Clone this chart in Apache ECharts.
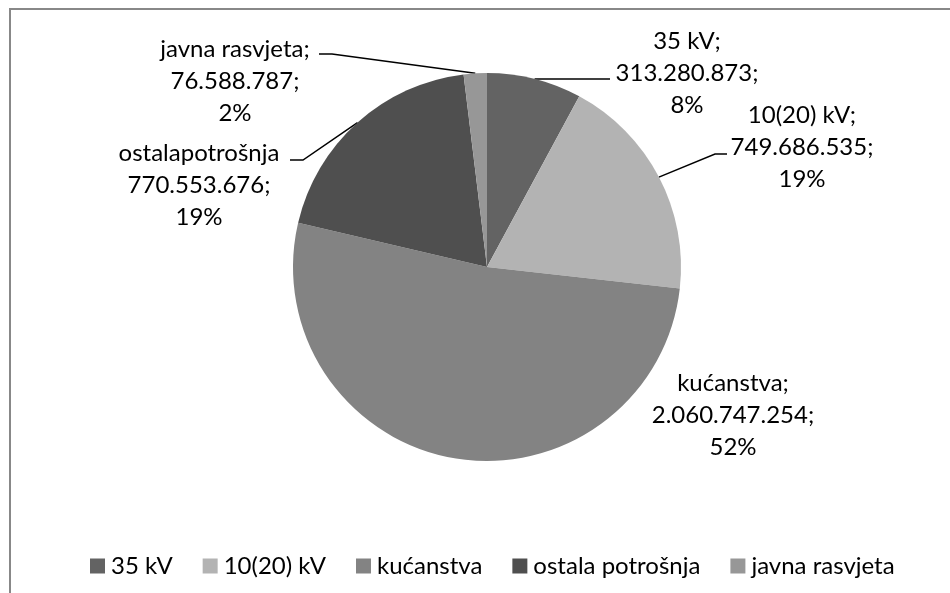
<!DOCTYPE html>
<html>
<head>
<meta charset="utf-8">
<script src="https://cdn.jsdelivr.net/npm/echarts@6/dist/echarts.min.js"></script>
<style>
html,body{margin:0;padding:0;background:#fff;}
#c{width:950px;height:593px;}
</style>
</head>
<body>
<div id="c"></div>
<script>
const categories = ['35 kV', '10(20) kV', 'kućanstva', 'ostala potrošnja', 'javna rasvjeta'];
const values = [313280873, 749686535, 2060747254, 770553676, 76588787];
const labelNames = ['35 kV;', '10(20) kV;', 'kućanstva;', 'ostalapotrošnja', 'javna rasvjeta;'];
const colors = ['#636363', '#b3b3b3', '#838383', '#4f4f4f', '#979797'];

// label placement (layout only)
const labelPlace = [
  {x: 687, y: 73, line: [[610, 79]]},
  {x: 802, y: 147, line: [[715, 154], [727, 154]]},
  {x: 733, y: 415, line: null},
  {x: 199, y: 185, line: [[303, 160], [290, 160]]},
  {x: 235, y: 81, line: [[332, 54], [319, 54]]}
];

function fmt(v) {
  return String(v).replace(/\B(?=(\d{3})+(?!\d))/g, '.');
}

const chart = echarts.init(document.getElementById('c'), null, {renderer: 'canvas'});
const FONT = 'Lato';

chart.setOption({
  animation: false,
  backgroundColor: '#ffffff',
  color: colors,
  graphic: [{
    type: 'rect',
    shape: {x: 10, y: 9, width: 1200, height: 1000},
    style: {fill: 'none', stroke: '#888888', lineWidth: 2},
    silent: true,
    z: 100
  }],
  legend: {
    left: 85,
    top: 549,
    icon: 'rect',
    itemWidth: 15,
    itemHeight: 15,
    itemGap: 30,
    textStyle: {fontFamily: FONT, fontSize: 24, color: '#000', padding: [0, 0, 0, 1]},
    data: categories
  },
  series: [{
    type: 'pie',
    center: [487, 267],
    radius: 194,
    startAngle: 90,
    clockwise: true,
    avoidLabelOverlap: false,
    itemStyle: {borderWidth: 0},
    label: {
      show: true,
      position: 'outside',
      fontFamily: FONT,
      fontSize: 24,
      lineHeight: 32,
      color: '#000',
      align: 'center',
      formatter: function (p) {
        return labelNames[p.dataIndex] + '\n' + fmt(p.value) + ';\n' + Math.round(p.percent) + '%';
      }
    },
    labelLine: {show: true, length: 10, length2: 10, lineStyle: {color: '#000', width: 1.5}},
    labelLayout: function (params) {
      const pl = labelPlace[params.dataIndex];
      const out = {x: pl.x, y: pl.y, align: 'center', verticalAlign: 'middle'};
      if (pl.line && params.labelLinePoints) {
        out.labelLinePoints = [params.labelLinePoints[0]].concat(pl.line);
      }
      return out;
    },
    data: categories.map(function (c, i) {
      const d = {name: c, value: values[i]};
      if (!labelPlace[i].line) d.labelLine = {show: false};
      return d;
    })
  }]
});
</script>
</body>
</html>
